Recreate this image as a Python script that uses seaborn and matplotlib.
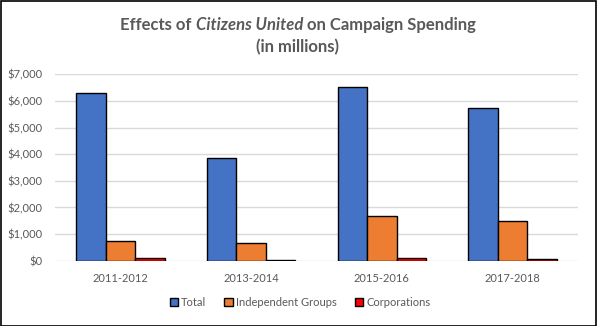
import matplotlib
matplotlib.use("Agg")
import matplotlib.pyplot as plt
import seaborn as sns
import pandas as pd
from matplotlib.patches import Patch, Rectangle
from matplotlib.ticker import FuncFormatter

categories = ["2011-2012", "2013-2014", "2015-2016", "2017-2018"]
total = [6280, 3850, 6520, 5730]
independent = [730, 655, 1670, 1480]
corporations = [90, 15, 90, 55]
series_names = ["Total", "Independent Groups", "Corporations"]
colors = ["#4472C4", "#ED7D31", "#FF0000"]

rows = []
for name, vals in zip(series_names, [total, independent, corporations]):
    for c, v in zip(categories, vals):
        rows.append({"Period": c, "Series": name, "Value": v})
df = pd.DataFrame(rows)

sns.set_theme(style="white")
FONT = ["Lato", "DejaVu Sans"]
plt.rcParams["font.family"] = FONT
GREY = "#595959"

fig = plt.figure(figsize=(5.97, 3.26), dpi=100)
ax = fig.add_axes([55/597, 1-260.7/326, 523/597, (260.7-74.3)/326])

sns.barplot(data=df, x="Period", y="Value", hue="Series", hue_order=series_names,
            palette=colors, width=0.675, gap=0, edgecolor="black", linewidth=1.0,
            saturation=1, ax=ax, legend=False, zorder=3)

ax.set_ylim(0, 7000)
ax.set_xlim(-0.5, 3.5)
ax.set_yticks(range(0, 7001, 1000))
ax.yaxis.set_major_formatter(FuncFormatter(lambda v, p: f"${int(v):,}"))
ax.grid(axis="y", color="#D9D9D9", linewidth=1.0, zorder=0)
ax.grid(axis="x", visible=False)
for s in ax.spines.values():
    s.set_visible(False)
ax.tick_params(axis="both", length=0, labelsize=8, labelcolor=GREY)
ax.tick_params(axis="y", pad=9)
ax.tick_params(axis="x", pad=9)
ax.set_xlabel("")
ax.set_ylabel("")

handles = [Patch(facecolor=c, edgecolor="black", linewidth=1.0) for c in colors]
fig.legend(handles, series_names, loc="center", bbox_to_anchor=(300/597, 1-302/326),
           ncol=3, frameon=False, fontsize=8, labelcolor=GREY, handlelength=0.75,
           handleheight=0.75, handletextpad=0.3, columnspacing=1.6)

# Title with italic segment
fig.canvas.draw()
renderer = fig.canvas.get_renderer()
parts = [("Effects of ", "normal"), ("Citizens United", "italic"), (" on Campaign Spending", "normal")]
tsize = 12
texts = []
for s, st in parts:
    t = fig.text(0, 1-25/326, s, fontsize=tsize, fontweight="bold", style=st,
                 color=GREY, va="center", ha="left")
    texts.append(t)
widths = [t.get_window_extent(renderer).width for t in texts]
tot = sum(widths)
x0 = 298 - tot/2
for t, w in zip(texts, widths):
    t.set_x(x0/597)
    x0 += w
fig.text(298/597, 1-47/326, "(in millions)", fontsize=tsize, fontweight="bold",
         color=GREY, va="center", ha="center")

fig.patches.append(Rectangle((0.5/597, 0.5/326), 1-1.5/597, 1-1.5/326, transform=fig.transFigure,
                             fill=False, edgecolor="black", linewidth=1.2))

fig.savefig("out.png", dpi=100)
